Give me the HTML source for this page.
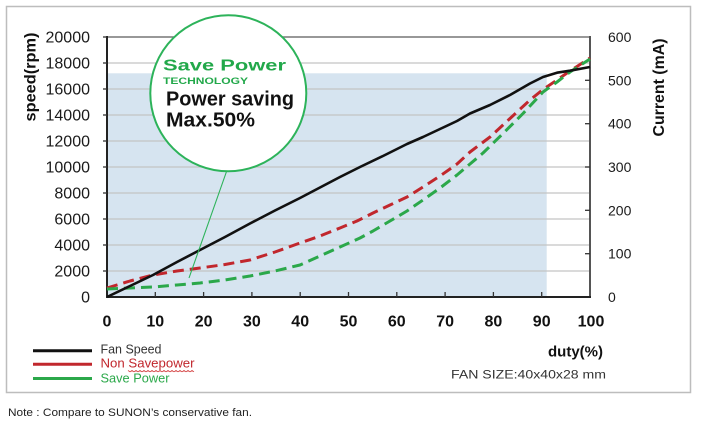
<!DOCTYPE html>
<html><head><meta charset="utf-8"><style>
html,body{margin:0;padding:0;background:#fff;}
svg{display:block;}
text{font-family:"Liberation Sans",Arial,sans-serif;}
</style></head><body>
<svg width="702" height="421" viewBox="0 0 702 421" xmlns="http://www.w3.org/2000/svg">
<rect x="0" y="0" width="702" height="421" fill="#fff"/>
<rect x="6.5" y="6.5" width="684" height="386" fill="none" stroke="#bdbdbd" stroke-width="1.5"/>
<!-- blue region -->
<rect x="107" y="73.3" width="439.7" height="223.7" fill="#d6e4f0"/>
<!-- gridlines -->
<g stroke="#c4c4c4" stroke-width="1.2">
<line x1="107" x2="590" y1="63" y2="63"/>
<line x1="107" x2="590" y1="89" y2="89"/>
<line x1="107" x2="590" y1="115" y2="115"/>
<line x1="107" x2="590" y1="141" y2="141"/>
<line x1="107" x2="590" y1="167" y2="167"/>
<line x1="107" x2="590" y1="193" y2="193"/>
<line x1="107" x2="590" y1="219" y2="219"/>
<line x1="107" x2="590" y1="245" y2="245"/>
<line x1="107" x2="590" y1="271" y2="271"/>
</g>
<line x1="107" x2="590" y1="37" y2="37" stroke="#777" stroke-width="1.5"/>
<!-- axes -->
<line x1="590" x2="590" y1="36" y2="298" stroke="#555" stroke-width="2"/>
<line x1="107" x2="107" y1="36" y2="298" stroke="#222" stroke-width="2"/>
<line x1="106" x2="591" y1="297" y2="297" stroke="#222" stroke-width="2"/>
<!-- ticks -->
<g stroke="#333" stroke-width="1.3">
<line x1="155.3" x2="155.3" y1="292" y2="297"/>
<line x1="203.6" x2="203.6" y1="292" y2="297"/>
<line x1="251.9" x2="251.9" y1="292" y2="297"/>
<line x1="300.2" x2="300.2" y1="292" y2="297"/>
<line x1="348.5" x2="348.5" y1="292" y2="297"/>
<line x1="396.8" x2="396.8" y1="292" y2="297"/>
<line x1="445.1" x2="445.1" y1="292" y2="297"/>
<line x1="493.4" x2="493.4" y1="292" y2="297"/>
<line x1="541.7" x2="541.7" y1="292" y2="297"/>
<line x1="585" x2="590" y1="80.3" y2="80.3"/>
<line x1="585" x2="590" y1="123.7" y2="123.7"/>
<line x1="585" x2="590" y1="167" y2="167"/>
<line x1="585" x2="590" y1="210.3" y2="210.3"/>
<line x1="585" x2="590" y1="253.7" y2="253.7"/>
<line x1="103" x2="107" y1="37" y2="37"/>
<line x1="103" x2="107" y1="63" y2="63"/>
<line x1="103" x2="107" y1="89" y2="89"/>
<line x1="103" x2="107" y1="115" y2="115"/>
<line x1="103" x2="107" y1="141" y2="141"/>
<line x1="103" x2="107" y1="167" y2="167"/>
<line x1="103" x2="107" y1="193" y2="193"/>
<line x1="103" x2="107" y1="219" y2="219"/>
<line x1="103" x2="107" y1="245" y2="245"/>
<line x1="103" x2="107" y1="271" y2="271"/>
</g>
<!-- left labels -->
<g font-size="16" fill="#1a1a1a" text-anchor="end">
<text x="90" y="42.5">20000</text>
<text x="90" y="68.5">18000</text>
<text x="90" y="94.5">16000</text>
<text x="90" y="120.5">14000</text>
<text x="90" y="146.5">12000</text>
<text x="90" y="172.5">10000</text>
<text x="90" y="198.5">8000</text>
<text x="90" y="224.5">6000</text>
<text x="90" y="250.5">4000</text>
<text x="90" y="276.5">2000</text>
<text x="90" y="302.5">0</text>
</g>
<!-- right labels -->
<g font-size="14" fill="#1a1a1a">
<text x="608" y="42">600</text>
<text x="608" y="85.3">500</text>
<text x="608" y="128.7">400</text>
<text x="608" y="172">300</text>
<text x="608" y="215.3">200</text>
<text x="608" y="258.7">100</text>
<text x="608" y="302">0</text>
</g>
<!-- x labels -->
<g font-size="16" font-weight="bold" fill="#111" text-anchor="middle">
<text x="107" y="326.5">0</text>
<text x="155.3" y="326.5">10</text>
<text x="203.6" y="326.5">20</text>
<text x="251.9" y="326.5">30</text>
<text x="300.2" y="326.5">40</text>
<text x="348.5" y="326.5">50</text>
<text x="396.8" y="326.5">60</text>
<text x="445.1" y="326.5">70</text>
<text x="493.4" y="326.5">80</text>
<text x="541.7" y="326.5">90</text>
<text x="591" y="326.5">100</text>
</g>
<!-- axis titles -->
<text transform="translate(35.5,77) rotate(-90)" font-size="16" font-weight="bold" fill="#111" text-anchor="middle" textLength="89" lengthAdjust="spacingAndGlyphs">speed(rpm)</text>
<text transform="translate(664,87.5) rotate(-90)" font-size="16" font-weight="bold" fill="#111" text-anchor="middle" textLength="98" lengthAdjust="spacingAndGlyphs">Current (mA)</text>
<text x="548" y="356.5" font-size="15" font-weight="bold" fill="#111" textLength="55" lengthAdjust="spacingAndGlyphs">duty(%)</text>
<text x="451" y="378.3" font-size="12" fill="#333" textLength="155" lengthAdjust="spacingAndGlyphs">FAN SIZE:40x40x28 mm</text>
<!-- series -->
<polyline fill="none" stroke="#c1272d" stroke-width="3" stroke-dasharray="11 6" stroke-linejoin="round" points="107,288 130,281 153,275 177,271 200,268 225,264.5 250,260 275,252 300,243 320,236 340,228 357,221 373,213 390,205 407,197 423,187 440,176 457,164 470,152 490,137 510,118.5 530,100 543,89.5 557,80 570,71 590,58"/>
<polyline fill="none" stroke="#2ba84a" stroke-width="3" stroke-dasharray="11 6" stroke-linejoin="round" points="107,289 130,288 153,287 177,285 200,283 225,280 250,276 275,271 300,265 320,256 340,247 360,238 373,231 390,221 407,211 423,200 440,188 457,175 470,164 483,153 503,133.5 523,113.5 543,92 557,82 570,72 590,59"/>
<polyline fill="none" stroke="#111" stroke-width="2.6" stroke-linejoin="round" points="107,297 130,286 153,275 177,262 200,250 225,237 250,223.5 275,210.5 300,198 320,187.5 340,177 360,167 383,156 407,144 423,137 440,129 457,121 470,113.5 490,105 510,95 530,83.5 543,77 557,72.7 570,70.7 590,67"/>
<!-- callout -->
<line x1="226.7" y1="171" x2="189" y2="278" stroke="#2db35a" stroke-width="1.1"/>
<circle cx="228.3" cy="93.3" r="78" fill="#fff" stroke="#2db35a" stroke-width="2"/>
<text x="163" y="70.7" font-size="16" font-weight="bold" fill="#22a84a" textLength="123" lengthAdjust="spacingAndGlyphs">Save Power</text>
<text x="163" y="84" font-size="9" font-weight="bold" fill="#22a84a" textLength="85" lengthAdjust="spacingAndGlyphs">TECHNOLOGY</text>
<text x="166" y="105.5" font-size="20" font-weight="bold" fill="#111" textLength="128" lengthAdjust="spacingAndGlyphs">Power saving</text>
<text x="166" y="126.5" font-size="20" font-weight="bold" fill="#111" textLength="89" lengthAdjust="spacingAndGlyphs">Max.50%</text>
<!-- legend -->
<line x1="33" x2="92" y1="350.7" y2="350.7" stroke="#111" stroke-width="3"/>
<line x1="33" x2="92" y1="364.3" y2="364.3" stroke="#c1272d" stroke-width="3"/>
<line x1="33" x2="92" y1="378.5" y2="378.5" stroke="#2ba84a" stroke-width="3"/>
<text x="100.5" y="353.3" font-size="13" fill="#333" textLength="61" lengthAdjust="spacingAndGlyphs">Fan Speed</text>
<text x="100.5" y="367.7" font-size="13" fill="#c1272d" textLength="94" lengthAdjust="spacingAndGlyphs">Non Savepower</text>
<polyline fill="none" stroke="#d23a3a" stroke-width="0.8" points="128,370.5 130,371.8 132,370.5 134,371.8 136,370.5 138,371.8 140,370.5 142,371.8 144,370.5 146,371.8 148,370.5 150,371.8 152,370.5 154,371.8 156,370.5 158,371.8 160,370.5 162,371.8 164,370.5 166,371.8 168,370.5 170,371.8 172,370.5 174,371.8 176,370.5 178,371.8 180,370.5 182,371.8 184,370.5 186,371.8 188,370.5 190,371.8 192,370.5 194,371.8"/>
<text x="100.5" y="382.7" font-size="13" fill="#2ba84a" textLength="69" lengthAdjust="spacingAndGlyphs">Save Power</text>
<!-- note -->
<text x="8" y="416" font-size="11" fill="#222" textLength="244" lengthAdjust="spacingAndGlyphs">Note : Compare to SUNON’s conservative fan.</text>
</svg>
</body></html>
